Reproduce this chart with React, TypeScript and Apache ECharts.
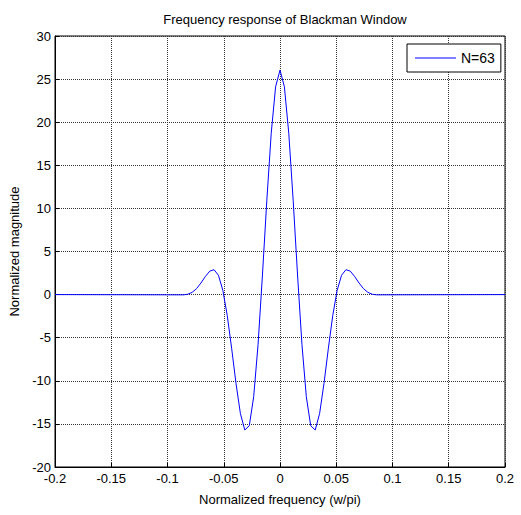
import React, { useEffect, useRef } from "react";
import * as echarts from "echarts";

const titleText = "Frequency response of Blackman Window";
const xAxisName = "Normalized frequency (w/pi)";
const yAxisName = "Normalized magnitude";
const seriesName = "N=63";

// normalized frequency (w/pi)
const freq = [
  -0.2, -0.0859, -0.082, -0.0781, -0.0742, -0.0703, -0.0664, -0.0625, -0.0586,
  -0.0547, -0.0508, -0.0469, -0.043, -0.0391, -0.0352, -0.0313, -0.0273,
  -0.0234, -0.0195, -0.0156, -0.0117, -0.0078, -0.0039, 0, 0.0039, 0.0078,
  0.0117, 0.0156, 0.0195, 0.0234, 0.0273, 0.0313, 0.0352, 0.0391, 0.043,
  0.0469, 0.0508, 0.0547, 0.0586, 0.0625, 0.0664, 0.0703, 0.0742, 0.0781,
  0.082, 0.0859, 0.2,
];

// normalized magnitude
const magnitude = [
  0, -0.03, 0.04, 0.26, 0.69, 1.34, 2.09, 2.72, 2.89, 2.24, 0.49, -2.42,
  -6.22, -10.31, -13.8, -15.71, -15.21, -11.85, -5.77, 2.27, 10.95, 18.73,
  24.12, 26.04, 24.12, 18.73, 10.95, 2.27, -5.77, -11.85, -15.21, -15.71,
  -13.8, -10.31, -6.22, -2.42, 0.49, 2.24, 2.89, 2.72, 2.09, 1.34, 0.69, 0.26,
  0.04, -0.03, 0,
];

const FONT = "'Liberation Sans', Arial, Helvetica, sans-serif";

export default function App() {
  const ref = useRef<HTMLDivElement>(null);

  useEffect(() => {
    if (!ref.current) return;
    const chart = echarts.init(ref.current, undefined, { renderer: "svg" });
    const data = freq.map((f, i) => [f, magnitude[i]]);
    chart.setOption({
      animation: false,
      backgroundColor: "#ffffff",
      textStyle: { fontFamily: FONT, color: "#000" },
      title: {
        text: titleText,
        left: 280,
        textAlign: "center",
        top: 8,
        textStyle: {
          fontFamily: FONT,
          fontSize: 13,
          fontWeight: "normal",
          color: "#000",
        },
      },
      grid: {
        left: 55,
        right: 16,
        top: 36,
        bottom: 48,
        show: true,
        borderColor: "#000",
        borderWidth: 1,
        backgroundColor: "#fff",
      },
      legend: {
        left: 407,
        top: 44,
        padding: [7, 6, 7, 8],
        itemWidth: 41,
        itemHeight: 15,
        backgroundColor: "#fff",
        borderColor: "#000",
        borderWidth: 1,
        borderRadius: 0,
        selectedMode: false,
        textStyle: { fontFamily: FONT, fontSize: 14, color: "#000" },
        data: [
          {
            name: seriesName,
            icon: "path://M0,0 L41,0 L41,1 L0,1 Z",
            itemStyle: { color: "#0000ff" },
          },
        ],
      },
      xAxis: {
        type: "value",
        min: -0.2,
        max: 0.2,
        interval: 0.05,
        name: xAxisName,
        nameLocation: "middle",
        nameGap: 26,
        nameTextStyle: { fontFamily: FONT, fontSize: 13, color: "#000" },
        axisLine: { show: true, onZero: false, lineStyle: { color: "#000", width: 1 } },
        axisTick: { show: true, inside: true, length: 4, lineStyle: { color: "#000" } },
        axisLabel: {
          fontFamily: FONT,
          fontSize: 13,
          color: "#000",
          margin: 5,
          formatter: (v: number) => String(parseFloat(v.toFixed(2))),
        },
        splitLine: {
          show: true,
          lineStyle: { color: "#333", type: "dotted", width: 1 },
        },
      },
      yAxis: {
        type: "value",
        min: -20,
        max: 30,
        interval: 5,
        name: yAxisName,
        nameLocation: "middle",
        nameGap: 30,
        nameTextStyle: { fontFamily: FONT, fontSize: 13, color: "#000" },
        axisLine: { show: true, onZero: false, lineStyle: { color: "#000", width: 1 } },
        axisTick: { show: true, inside: true, length: 4, lineStyle: { color: "#000" } },
        axisLabel: { fontFamily: FONT, fontSize: 13, color: "#000", margin: 4 },
        splitLine: {
          show: true,
          lineStyle: { color: "#333", type: "dotted", width: 1 },
        },
      },
      series: [
        {
          name: seriesName,
          type: "line",
          data,
          symbol: "none",
          showSymbol: false,
          clip: true,
          lineStyle: { color: "#0000ff", width: 1 },
          itemStyle: { color: "#0000ff" },
        },
      ],
    });
    return () => chart.dispose();
  }, []);

  return (
    <div
      ref={ref}
      style={{ position: "fixed", left: 0, top: 0, width: 521, height: 515 }}
    />
  );
}
